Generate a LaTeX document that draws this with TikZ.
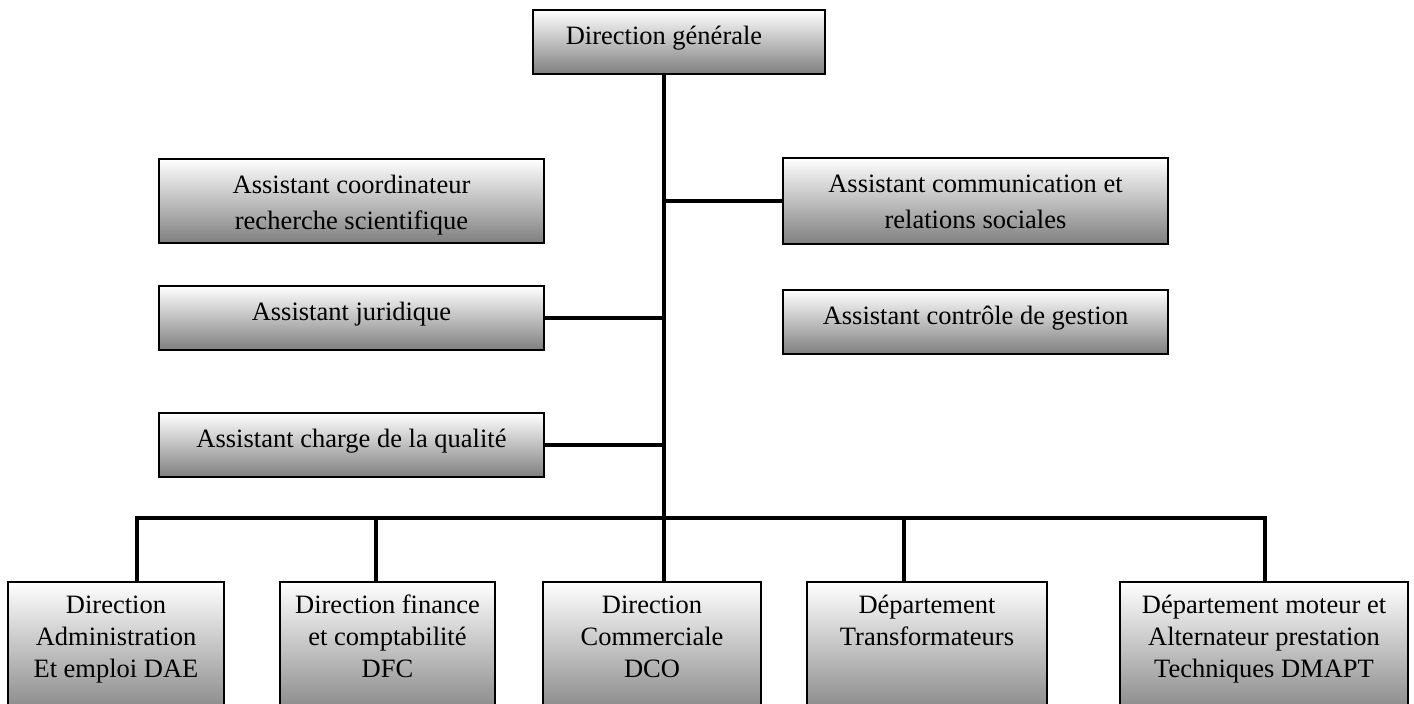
\documentclass[tikz,border=0pt]{standalone}
\usepackage{fontspec}
\setmainfont{Liberation Serif}
\newcommand{\bxt}[4]{\parbox[c][#2][t]{#1}{\centering\fontsize{26.5pt}{#3}\selectfont\vspace*{10pt}\strut #4\strut\par}}
\begin{document}
\begin{tikzpicture}[x=1pt,y=-1pt,
  orgbox/.style={draw=black,line width=1.5pt,top color=white,bottom color=black!50,
    inner sep=0pt,anchor=north},
  link/.style={line width=3.5pt,draw=black}]
\useasboundingbox (0,0) rectangle (1414,704);
\clip (0,0) rectangle (1414,704);
% top
\node[orgbox] (dg) at (679,9) {\bxt{292pt}{64pt}{36pt}{Direction générale\hspace*{30pt}}};
% left assistants
\node[orgbox] (coord) at (351.5,158) {\bxt{385pt}{84pt}{36pt}{Assistant coordinateur\\recherche scientifique}};
\node[orgbox] (jur) at (351.5,285) {\bxt{385pt}{64pt}{36pt}{Assistant juridique}};
\node[orgbox] (qual) at (351.5,412) {\bxt{385pt}{64pt}{36pt}{Assistant charge de la qualité}};
% right assistants
\node[orgbox] (comm) at (975.5,157) {\bxt{385pt}{86pt}{36pt}{Assistant communication et\\relations sociales}};
\node[orgbox] (ctrl) at (975.5,289) {\bxt{385pt}{64pt}{36pt}{Assistant contrôle de gestion}};
% bottom
\node[orgbox] (dae) at (116,581) {\bxt{216pt}{140pt}{31.7pt}{Direction\\Administration\\Et emploi DAE}};
\node[orgbox] (dfc) at (387.5,581) {\bxt{215pt}{140pt}{31.7pt}{Direction finance\\et comptabilité\\DFC}};
\node[orgbox] (dco) at (652,581) {\bxt{218pt}{140pt}{31.7pt}{Direction\\Commerciale\\DCO}};
\node[orgbox] (tr) at (927,581) {\bxt{240pt}{140pt}{31.7pt}{Département\\Transformateurs}};
\node[orgbox] (dm) at (1264,581) {\bxt{288pt}{140pt}{31.7pt}{Département moteur et\\Alternateur prestation\\Techniques DMAPT}};
% connectors
\coordinate (t) at (664,518);
\coordinate (b1) at (137,518);
\coordinate (b2) at (376,518);
\coordinate (b4) at (904,518);
\coordinate (b5) at (1265,518);
\draw[link] (t |- dg.south) -- (t);
\draw[link] (jur.east) -- (jur.east -| t);
\draw[link] (qual.east) -- (qual.east -| t);
\draw[link] (comm.west) -- (comm.west -| t);
\draw[link,line cap=rect] (b1) -- (b5);
\draw[link] (b1) -- (b1 |- dae.north);
\draw[link] (b2) -- (b2 |- dfc.north);
\draw[link] (t) -- (t |- dco.north);
\draw[link] (b4) -- (b4 |- tr.north);
\draw[link] (b5) -- (b5 |- dm.north);
\end{tikzpicture}
\end{document}
